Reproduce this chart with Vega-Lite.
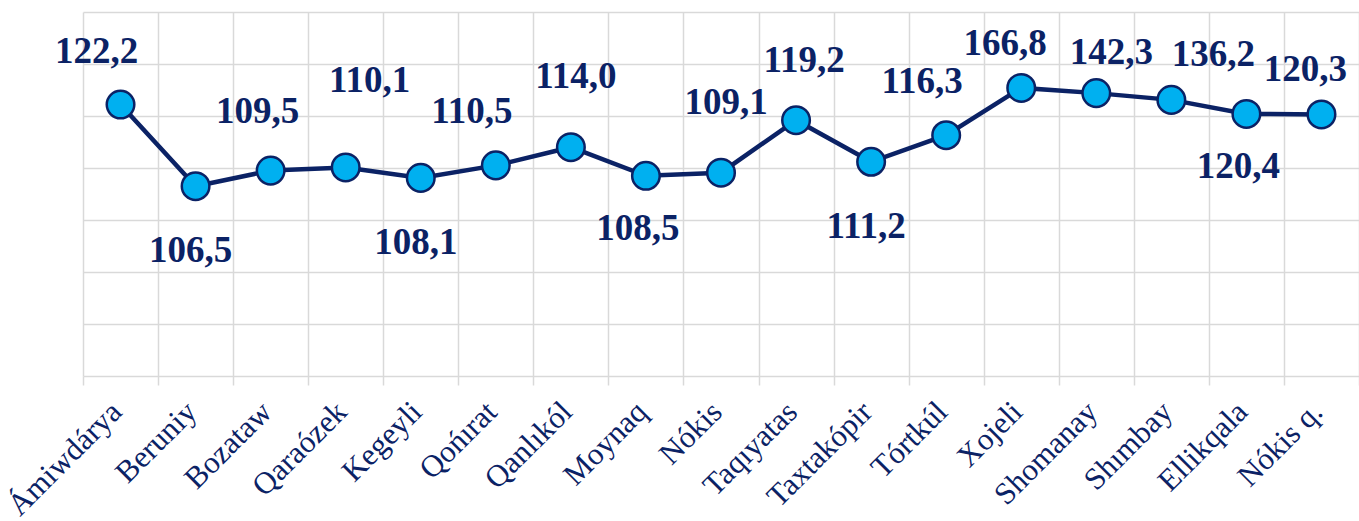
{
  "$schema": "https://vega.github.io/schema/vega-lite/v6.json",
  "width": 1276,
  "height": 364,
  "autosize": {"type": "none"},
  "padding": {"left": 83, "top": 12, "right": 0, "bottom": 145},
  "background": "white",
  "config": {"view": {"stroke": null}, "font": "'Liberation Serif', 'Times New Roman', serif"},
  "data": {
    "values": [
      {"district": "Ámiwdárya", "plotted": 122.2, "label": "122,2"},
      {"district": "Beruniy", "plotted": 106.5, "label": "106,5"},
      {"district": "Bozataw", "plotted": 109.5, "label": "109,5"},
      {"district": "Qaraózek", "plotted": 110.1, "label": "110,1"},
      {"district": "Kegeyli", "plotted": 108.1, "label": "108,1"},
      {"district": "Qońırat", "plotted": 110.5, "label": "110,5"},
      {"district": "Qanlıkól", "plotted": 114.0, "label": "114,0"},
      {"district": "Moynaq", "plotted": 108.5, "label": "108,5"},
      {"district": "Nókis", "plotted": 109.1, "label": "109,1"},
      {"district": "Taqıyatas", "plotted": 119.2, "label": "119,2"},
      {"district": "Taxtakópir", "plotted": 111.2, "label": "111,2"},
      {"district": "Tórtkúl", "plotted": 116.3, "label": "116,3"},
      {"district": "Xojeli", "plotted": 125.4, "label": "166,8"},
      {"district": "Shomanay", "plotted": 124.4, "label": "142,3"},
      {"district": "Shımbay", "plotted": 123.1, "label": "136,2"},
      {"district": "Ellikqala", "plotted": 120.4, "label": "120,4"},
      {"district": "Nókis q.", "plotted": 120.3, "label": "120,3"}
    ]
  },
  "encoding": {
    "x": {
      "field": "district",
      "type": "nominal",
      "sort": null,
      "scale": {"type": "band", "paddingInner": 0, "paddingOuter": 0},
      "axis": {
        "title": null,
        "labelAngle": -45,
        "labelAlign": "right",
        "labelBaseline": "middle",
        "labelFont": "'Liberation Serif', 'Times New Roman', serif",
        "labelFontSize": 31,
        "labelColor": "#0b2265",
        "labelPadding": 22,
        "labelOffset": -4,
        "labelLimit": 400,
        "labelOverlap": false,
        "tickBand": "extent",
        "ticks": true,
        "tickColor": "#d9d9d9",
        "tickSize": 9,
        "tickWidth": 1.5,
        "grid": true,
        "gridColor": "#d9d9d9",
        "gridWidth": 1.5,
        "domain": false
      }
    },
    "y": {
      "field": "plotted",
      "type": "quantitative",
      "scale": {"domain": [70, 140], "nice": false, "zero": false},
      "axis": {
        "title": null,
        "labels": false,
        "ticks": false,
        "domain": false,
        "grid": true,
        "gridColor": "#d9d9d9",
        "gridWidth": 1.5,
        "values": [70, 80, 90, 100, 110, 120, 130, 140]
      }
    }
  },
  "layer": [
    {"mark": {"type": "line", "color": "#0b2265", "strokeWidth": 4.5}},
    {"mark": {"type": "circle", "fill": "#00b0f0", "stroke": "#0b2265", "strokeWidth": 2.5, "size": 760, "opacity": 1}},
    {
      "transform": [{"filter": {"field": "district", "oneOf": ["Ámiwdárya", "Qońırat", "Tórtkúl"]}}],
      "mark": {"type": "text", "font": "'Liberation Serif', 'Times New Roman', serif", "fontSize": 37, "fontWeight": "bold", "color": "#0b2265", "baseline": "middle", "align": "center", "dx": -24, "dy": -53},
      "encoding": {"text": {"field": "label"}}
    },
    {
      "transform": [{"filter": {"field": "district", "oneOf": ["Bozataw"]}}],
      "mark": {"type": "text", "font": "'Liberation Serif', 'Times New Roman', serif", "fontSize": 37, "fontWeight": "bold", "color": "#0b2265", "baseline": "middle", "align": "center", "dx": -13, "dy": -59},
      "encoding": {"text": {"field": "label"}}
    },
    {
      "transform": [{"filter": {"field": "district", "oneOf": ["Taqıyatas"]}}],
      "mark": {"type": "text", "font": "'Liberation Serif', 'Times New Roman', serif", "fontSize": 37, "fontWeight": "bold", "color": "#0b2265", "baseline": "middle", "align": "center", "dx": 8, "dy": -59},
      "encoding": {"text": {"field": "label"}}
    },
    {
      "transform": [{"filter": {"field": "district", "oneOf": ["Xojeli", "Nókis q."]}}],
      "mark": {"type": "text", "font": "'Liberation Serif', 'Times New Roman', serif", "fontSize": 37, "fontWeight": "bold", "color": "#0b2265", "baseline": "middle", "align": "center", "dx": -16, "dy": -44},
      "encoding": {"text": {"field": "label"}}
    },
    {
      "transform": [{"filter": {"field": "district", "oneOf": ["Shomanay"]}}],
      "mark": {"type": "text", "font": "'Liberation Serif', 'Times New Roman', serif", "fontSize": 37, "fontWeight": "bold", "color": "#0b2265", "baseline": "middle", "align": "center", "dx": 15, "dy": -40},
      "encoding": {"text": {"field": "label"}}
    },
    {
      "transform": [{"filter": {"field": "district", "oneOf": ["Shımbay"]}}],
      "mark": {"type": "text", "font": "'Liberation Serif', 'Times New Roman', serif", "fontSize": 37, "fontWeight": "bold", "color": "#0b2265", "baseline": "middle", "align": "center", "dx": 42, "dy": -45},
      "encoding": {"text": {"field": "label"}}
    },
    {
      "transform": [{"filter": {"field": "district", "oneOf": ["Qanlıkól", "Nókis"]}}],
      "mark": {"type": "text", "font": "'Liberation Serif', 'Times New Roman', serif", "fontSize": 37, "fontWeight": "bold", "color": "#0b2265", "baseline": "middle", "align": "center", "dx": 5, "dy": -70},
      "encoding": {"text": {"field": "label"}}
    },
    {
      "transform": [{"filter": {"field": "district", "oneOf": ["Qaraózek"]}}],
      "mark": {"type": "text", "font": "'Liberation Serif', 'Times New Roman', serif", "fontSize": 37, "fontWeight": "bold", "color": "#0b2265", "baseline": "middle", "align": "center", "dx": 24, "dy": -86},
      "encoding": {"text": {"field": "label"}}
    },
    {
      "transform": [{"filter": {"field": "district", "oneOf": ["Beruniy", "Kegeyli", "Taxtakópir"]}}],
      "mark": {"type": "text", "font": "'Liberation Serif', 'Times New Roman', serif", "fontSize": 37, "fontWeight": "bold", "color": "#0b2265", "baseline": "middle", "align": "center", "dx": -5, "dy": 65},
      "encoding": {"text": {"field": "label"}}
    },
    {
      "transform": [{"filter": {"field": "district", "oneOf": ["Moynaq", "Ellikqala"]}}],
      "mark": {"type": "text", "font": "'Liberation Serif', 'Times New Roman', serif", "fontSize": 37, "fontWeight": "bold", "color": "#0b2265", "baseline": "middle", "align": "center", "dx": -8, "dy": 53},
      "encoding": {"text": {"field": "label"}}
    }
  ]
}
